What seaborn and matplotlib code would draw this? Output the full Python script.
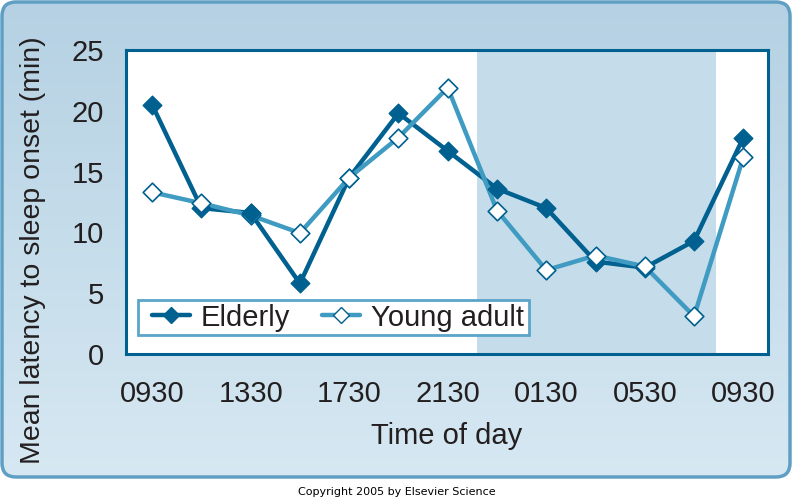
import numpy as np
import pandas as pd
import matplotlib
matplotlib.use("Agg")
import matplotlib.pyplot as plt
import seaborn as sns
from matplotlib.patches import FancyBboxPatch, Rectangle
from matplotlib.lines import Line2D

# data (two-hourly samples, 0930 -> 0930 next day)
slot = list(range(13))
tick_pos = [0, 2, 4, 6, 8, 10, 12]
tick_labels = ["0930", "1330", "1730", "2130", "0130", "0530", "0930"]
elderly = [20.5, 12.0, 11.6, 5.8, 14.5, 19.8, 16.7, 13.6, 12.0, 7.6, 7.1, 9.3, 17.8]
young = [13.3, 12.4, 11.4, 9.95, 14.5, 17.8, 21.9, 11.8, 6.9, 8.1, 7.2, 3.1, 16.2]
night_start, night_end = 6.6, 11.45

df = pd.DataFrame({
    "slot": slot * 2,
    "latency": elderly + young,
    "group": ["Elderly"] * 13 + ["Young adult"] * 13,
})

sns.set_style("white")
plt.rcParams['font.family'] = ['Liberation Sans', 'DejaVu Sans']

dark = "#00608f"
light = "#3f9bc1"
text_col = "#231f20"

fig = plt.figure(figsize=(8, 5), dpi=100)

# background panel with soft gradient
bg = fig.add_axes([0, 0, 1, 1])
bg.set_xlim(0, 800)
bg.set_ylim(500, 0)
bg.axis("off")
panel = FancyBboxPatch((2, 2), 788, 475, boxstyle="round,pad=0,rounding_size=14",
                       facecolor="none", edgecolor="#5f9fc4", linewidth=2.5, zorder=3)
bg.add_patch(panel)
grad = np.linspace(0, 1, 256).reshape(-1, 1)
top = np.array([0.71, 0.82, 0.89])
bot = np.array([0.84, 0.91, 0.95])
img = top + (bot - top) * grad[..., None]
im = bg.imshow(img, extent=(2, 790, 477, 2), aspect="auto", zorder=1)
clip = FancyBboxPatch((2, 2), 788, 475, boxstyle="round,pad=0,rounding_size=14",
                      transform=bg.transData, facecolor="none", edgecolor="none")
bg.add_patch(clip)
im.set_clip_path(clip)
bg.text(397, 492, "Copyright 2005 by Elsevier Science", ha="center", va="center",
        fontsize=8, color="black", family=["DejaVu Sans"])

ax = fig.add_axes([0.1575, 0.292, 0.8025, 0.608])
ax.set_facecolor("white")
ax.axvspan(night_start, night_end, color="#c5dcea", zorder=0, lw=0)

pal = {"Elderly": dark, "Young adult": light}
sns.lineplot(data=df, x="slot", y="latency", hue="group", palette=pal,
             linewidth=3.2, ax=ax, legend=False, zorder=2)
eld = df[df.group == "Elderly"]
yng = df[df.group == "Young adult"]
sns.scatterplot(data=eld, x="slot", y="latency", marker="D",
                s=90, color=dark, edgecolor=dark, linewidth=1, ax=ax, zorder=3, legend=False)
sns.scatterplot(data=yng, x="slot", y="latency", marker="D",
                s=90, color="white", edgecolor=dark, linewidth=1.2, ax=ax, zorder=4, legend=False)
# at 1330 the elderly marker sits on top
sns.scatterplot(data=eld[eld.slot == 2], x="slot", y="latency", marker="D",
                s=90, color=dark, edgecolor=dark, linewidth=1, ax=ax, zorder=5, legend=False)

ax.set_xlim(-0.53, 12.5)
ax.set_ylim(0, 25)
ax.set_xticks(tick_pos)
ax.set_xticklabels(tick_labels)
ax.set_yticks([0, 5, 10, 15, 20, 25])
ax.tick_params(axis="both", direction="out", length=10, width=2, color=dark,
               labelsize=21, labelcolor=text_col, pad=6)
ax.tick_params(axis="x", pad=9)
for sp in ax.spines.values():
    sp.set_color(dark)
    sp.set_linewidth(2.2)

ax.set_xlabel("Time of day", fontsize=21, color=text_col, labelpad=10)
ax.set_ylabel("Mean latency to sleep onset (min)", fontsize=20.5, color=text_col)
ax.yaxis.set_label_coords(-0.125, 0.342)

# legend box drawn separately so its padding matches the original
ax.add_patch(Rectangle((0.0187, 0.0625), 0.609, 0.1155, transform=ax.transAxes,
                       facecolor="white", edgecolor="#5aa5c8", linewidth=2, zorder=6))
handles = [
    Line2D([], [], color=dark, lw=3.2, marker="D", markersize=8, markerfacecolor=dark,
           markeredgecolor=dark),
    Line2D([], [], color=light, lw=3.2, marker="D", markersize=8, markerfacecolor="white",
           markeredgecolor=dark),
]
leg = ax.legend(handles, ["Elderly", "Young adult"], loc="center left", ncol=2,
                fontsize=21, frameon=False, bbox_to_anchor=(0.0405, 0.12),
                handlelength=1.3, columnspacing=1.1, borderpad=0, handletextpad=0.38,
                borderaxespad=0, labelcolor=text_col)
leg.set_zorder(7)

fig.savefig("out.png", dpi=100)
